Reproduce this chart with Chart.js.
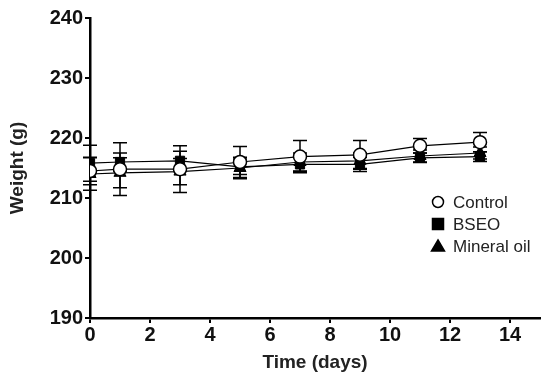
<!DOCTYPE html>
<html>
<head>
<meta charset="utf-8">
<script src="https://cdn.jsdelivr.net/npm/chart.js@4"></script>
<style>
  html, body { margin: 0; padding: 0; background: #fff; }
  #wrap { width: 550px; height: 383px; }
</style>
</head>
<body>
<div id="wrap"><canvas id="chart" width="550" height="383"></canvas></div>
<script>
// values
const days = [0, 1, 3, 5, 7, 9, 11, 13];
const control = [214.5, 214.8, 214.8, 216.0, 216.9, 217.2, 218.7, 219.3];
const controlSd = [2.3, 4.4, 3.9, 2.6, 2.7, 2.4, 1.2, 1.6];
const bseo = [215.8, 216.0, 216.2, 215.2, 215.6, 215.6, 216.7, 216.9];
const bseoSd = [3.0, 1.5, 1.6, 1.3, 1.2, 1.2, 0.8, 0.8];
const mineral = [214.0, 214.2, 214.4, 215.0, 216.0, 216.2, 217.0, 217.5];
const mineralSd = [2.7, 2.5, 2.2, 1.8, 1.5, 1.3, 1.0, 1.0];
const xTicks = [0, 2, 4, 6, 8, 10, 12, 14];
const yTicks = [190, 200, 210, 220, 230, 240];
const seriesNames = ['Control', 'BSEO', 'Mineral oil'];

const FONT = 'Arial, "Liberation Sans", sans-serif';

function pts(ys) {
    return days.map((d, i) => ({ x: d, y: ys[i] }));
}

const sds = [controlSd, bseoSd, mineralSd];

// error bars under the markers
const errorBars = {
    id: 'errorBars',
    beforeDatasetsDraw(c) {
        const ctx = c.ctx;
        const xs = c.scales.x, ys = c.scales.y;
        ctx.save();
        ctx.strokeStyle = '#000';
        ctx.lineWidth = 1.5;
        c.data.datasets.forEach((ds, k) => {
            ds.data.forEach((p, i) => {
                const px = xs.getPixelForValue(p.x);
                const top = ys.getPixelForValue(p.y + sds[k][i]);
                const bot = ys.getPixelForValue(p.y - sds[k][i]);
                ctx.beginPath();
                ctx.moveTo(px, top); ctx.lineTo(px, bot);
                ctx.moveTo(px - 7, top); ctx.lineTo(px + 7, top);
                ctx.moveTo(px - 7, bot); ctx.lineTo(px + 7, bot);
                ctx.stroke();
            });
        });
        ctx.restore();
    }
};

// legend drawn inside the plot, right side
const innerLegend = {
    id: 'innerLegend',
    afterDraw(c) {
        const ctx = c.ctx;
        const x0 = 438, y0 = 202, gap = 22;
        ctx.save();
        ctx.font = '17px ' + FONT;
        ctx.textBaseline = 'middle';
        c.data.datasets.forEach((ds, k) => {
            const y = y0 + k * gap;
            ctx.lineWidth = 1.5;
            ctx.strokeStyle = '#000';
            ctx.fillStyle = ds.pointBackgroundColor;
            ctx.beginPath();
            if (k === 0) {
                ctx.arc(x0, y, 5.5, 0, Math.PI * 2);
            } else if (k === 1) {
                ctx.rect(x0 - 5.5, y - 5.5, 11, 11);
            } else {
                ctx.moveTo(x0, y - 6); ctx.lineTo(x0 + 6.5, y + 5); ctx.lineTo(x0 - 6.5, y + 5); ctx.closePath();
            }
            ctx.fill(); ctx.stroke();
            ctx.fillStyle = '#222';
            ctx.fillText(seriesNames[k], x0 + 15, y + 1);
        });
        ctx.restore();
    }
};

new Chart(document.getElementById('chart'), {
    type: 'line',
    data: {
        datasets: [
            { label: seriesNames[0], data: pts(control), pointStyle: 'circle', pointRadius: 6.5,
              pointBackgroundColor: '#fff', pointBorderColor: '#000', pointBorderWidth: 1.5 },
            { label: seriesNames[1], data: pts(bseo), pointStyle: 'rect', pointRadius: 6.5,
              pointBackgroundColor: '#000', pointBorderColor: '#000', pointBorderWidth: 1 },
            { label: seriesNames[2], data: pts(mineral), pointStyle: 'triangle', pointRadius: 7,
              pointBackgroundColor: '#000', pointBorderColor: '#000', pointBorderWidth: 1 }
        ].map(d => Object.assign({ borderColor: '#000', borderWidth: 1.2, tension: 0, fill: false }, d))
    },
    options: {
        responsive: false,
        animation: false,
        layout: { autoPadding: false, padding: { left: 0, right: 10, top: 18, bottom: 9 } },
        plugins: { legend: { display: false }, tooltip: { enabled: false } },
        scales: {
            x: {
                type: 'linear', min: 0, max: 15,
                afterBuildTicks: s => { s.ticks = xTicks.map(v => ({ value: v })); },
                afterFit: s => { s.height = 56; },
                grid: { drawOnChartArea: false, drawTicks: true, tickLength: 5, color: '#000', lineWidth: 2 },
                border: { color: '#000', width: 2.5 },
                ticks: { color: '#111', padding: 0, font: { family: FONT, size: 20, weight: 'bold' } },
                title: { display: true, text: 'Time (days)', color: '#222', padding: { top: 4, bottom: 0 },
                         font: { family: FONT, size: 19, weight: 'bold' } }
            },
            y: {
                min: 190, max: 240,
                afterBuildTicks: s => { s.ticks = yTicks.map(v => ({ value: v })); },
                afterFit: s => { s.width = 90; },
                grid: { drawOnChartArea: false, drawTicks: true, tickLength: 5, color: '#000', lineWidth: 2 },
                border: { color: '#000', width: 2.5 },
                ticks: { color: '#111', padding: 2, font: { family: FONT, size: 20, weight: 'bold' } },
                title: { display: true, text: 'Weight (g)', color: '#222', padding: { top: 6, bottom: 0 },
                         font: { family: FONT, size: 19, weight: 'bold' } }
            }
        }
    },
    plugins: [errorBars, innerLegend]
});
</script>
</body>
</html>
